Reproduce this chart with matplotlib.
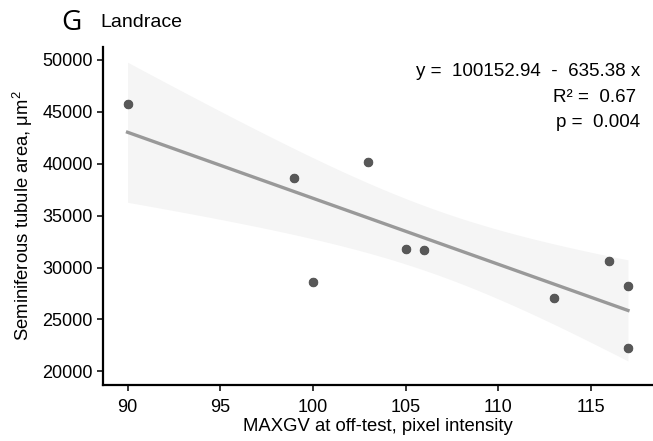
import numpy as np
import matplotlib
matplotlib.use("Agg")
import matplotlib.pyplot as plt

plt.rcParams['font.family'] = ['Liberation Sans', 'DejaVu Sans']
plt.rcParams['mathtext.fontset'] = 'custom'
plt.rcParams['mathtext.rm'] = 'Liberation Sans'
plt.rcParams['mathtext.it'] = 'Liberation Sans:italic'

# data
maxgv = [90, 99, 100, 103, 105, 106, 113, 116, 117, 117]
tubule_area = [45700, 38600, 28600, 40200, 31800, 31650, 27100, 30600, 28200, 22300]
equation_text = "y =  100152.94  -  635.38 x"
r2_text = "R² =  0.67"
p_text = "p =  0.004"
panel_label = "G"
panel_title = "Landrace"
x_ticks = [90, 95, 100, 105, 110, 115]
y_ticks = [20000, 25000, 30000, 35000, 40000, 45000, 50000]


def fit_with_band(x, y, n_grid=80):
    x = np.asarray(x, dtype=float)
    y = np.asarray(y, dtype=float)
    slope, intercept = np.polyfit(x, y, 1)
    resid = y - (intercept + slope * x)
    n = len(x)
    s = np.sqrt(np.sum(resid ** 2) / (n - 2))
    xg = np.linspace(x.min(), x.max(), n_grid)
    yg = intercept + slope * xg
    sxx = np.sum((x - x.mean()) ** 2)
    se = s * np.sqrt(1 / n + (xg - x.mean()) ** 2 / sxx)
    t = 2.306  # t(0.975, df=8)
    return xg, yg, yg - t * se, yg + t * se


fig = plt.figure(figsize=(6.53, 4.41), dpi=100)
ax = fig.add_axes([0.157, 0.126, 0.843, 0.768])

xg, yg, lo, hi = fit_with_band(maxgv, tubule_area)
ax.fill_between(xg, lo, hi, color='#f5f5f5', lw=0, zorder=1)
ax.plot(xg, yg, color='#999999', lw=2.4, zorder=2)
ax.scatter(maxgv, tubule_area, s=40, color='#585858', edgecolor='#444444', lw=0.5, zorder=3)

ax.set_xlim(88.65, 118.35)
ax.set_ylim(18650, 51250)
ax.set_xticks(x_ticks)
ax.set_yticks(y_ticks)
ax.tick_params(labelsize=13, length=4.5, width=1.1, colors='black')
ax.tick_params(axis='x', pad=5)
ax.tick_params(axis='y', pad=2.5)
for side in ['top', 'right']:
    ax.spines[side].set_visible(False)
for side in ['left', 'bottom']:
    ax.spines[side].set_linewidth(1.6)

ax.set_xlabel("MAXGV at off-test, pixel intensity", fontsize=13.3, labelpad=2)
ax.set_ylabel("Seminiferous tubule area, μm$^2$", fontsize=13.3, labelpad=5)

ax.text(0.976, 0.926, equation_text, transform=ax.transAxes, ha='right', va='center', fontsize=13.5)
ax.text(0.970, 0.849, r2_text, transform=ax.transAxes, ha='right', va='center', fontsize=13.5)
ax.text(0.976, 0.775, p_text, transform=ax.transAxes, ha='right', va='center', fontsize=13.5)

fig.text(0.094, 0.948, panel_label, fontsize=20, family=['Open Sans', 'DejaVu Sans'], va='center')
fig.text(0.153, 0.948, panel_title, fontsize=14, va='center')

fig.savefig("out.png", dpi=100)
